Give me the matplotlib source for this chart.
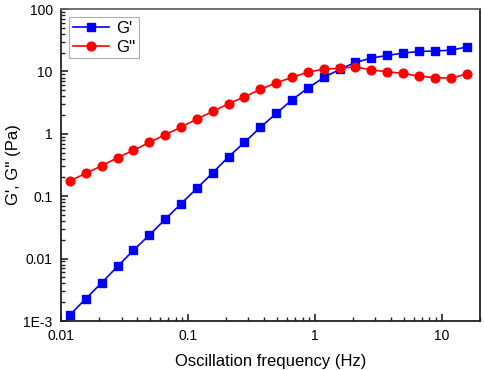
import matplotlib
matplotlib.use('Agg')
import matplotlib.pyplot as plt
from matplotlib.ticker import LogLocator, NullFormatter

plt.rcParams['font.family'] = ['Liberation Sans', 'DejaVu Sans']

# oscillation frequency (Hz)
freq = [0.01178, 0.0157, 0.0209, 0.0279, 0.0372, 0.0497, 0.0662, 0.0883,
        0.1178, 0.157, 0.209, 0.279, 0.372, 0.497, 0.662, 0.883,
        1.178, 1.57, 2.09, 2.79, 3.72, 4.97, 6.62, 8.83, 11.78, 15.7]

# storage modulus G' (Pa)
g1 = [0.00126, 0.00228, 0.0041, 0.0075, 0.0136, 0.0239, 0.0427, 0.0759,
      0.134, 0.238, 0.43, 0.73, 1.27, 2.13, 3.52, 5.42,
      8.04, 10.8, 14.0, 16.4, 18.1, 19.7, 21.0, 21.2, 22.0, 24.6]

# loss modulus G'' (Pa)
g2 = [0.177, 0.233, 0.308, 0.414, 0.544, 0.73, 0.97, 1.28,
      1.73, 2.29, 3.04, 3.93, 5.16, 6.59, 8.04, 9.77,
      10.9, 11.3, 11.8, 10.6, 9.9, 9.3, 8.4, 8.0, 7.8, 9.1]

xticks = [0.01, 0.1, 1, 10]
xticklabels = ['0.01', '0.1', '1', '10']
yticks = [1e-3, 0.01, 0.1, 1, 10, 100]
yticklabels = ['1E-3', '0.01', '0.1', '1', '10', '100']

fig = plt.figure(figsize=(4.84, 3.70), dpi=100)
ax = fig.add_axes([0.126, 0.1324, 0.8657, 0.843])

ax.plot(freq, g1, '-s', color='#0000ff', lw=1.2, ms=5.4, label="G'")
ax.plot(freq, g2, '-o', color='#ff0000', lw=1.2, ms=6.3, label="G''")

ax.set_xscale('log')
ax.set_yscale('log')
ax.set_xlim(0.01, 20)
ax.set_ylim(1e-3, 100)

ax.set_xticks(xticks)
ax.set_xticklabels(xticklabels)
ax.set_yticks(yticks)
ax.set_yticklabels(yticklabels)
ax.xaxis.set_minor_locator(LogLocator(base=10, subs=range(2, 10), numticks=20))
ax.yaxis.set_minor_locator(LogLocator(base=10, subs=range(2, 10), numticks=20))
ax.xaxis.set_minor_formatter(NullFormatter())
ax.yaxis.set_minor_formatter(NullFormatter())

ax.tick_params(which='major', direction='in', length=5, width=1.2, labelsize=10, colors='#222222', pad=6)
ax.tick_params(which='minor', direction='in', length=3, width=1.0, colors='#222222')
ax.tick_params(axis='x', labelcolor='black')
ax.tick_params(axis='y', labelcolor='black')

for side in ['left', 'bottom', 'right']:
    ax.spines[side].set_linewidth(1.3)
    ax.spines[side].set_color('#222222')
ax.spines['top'].set_linewidth(1.3)
ax.spines['top'].set_color('#666666')

ax.set_xlabel('Oscillation frequency (Hz)', fontsize=12, labelpad=8)
ax.set_ylabel("G', G'' (Pa)", fontsize=12, labelpad=2)

leg = ax.legend(loc='upper left', fontsize=12, frameon=True, fancybox=False,
                edgecolor='#999999', handlelength=2.2, borderpad=0.2,
                labelspacing=0.25, handletextpad=0.4, borderaxespad=0.5)
leg.get_frame().set_linewidth(0.8)

fig.savefig('out.png', dpi=100)
